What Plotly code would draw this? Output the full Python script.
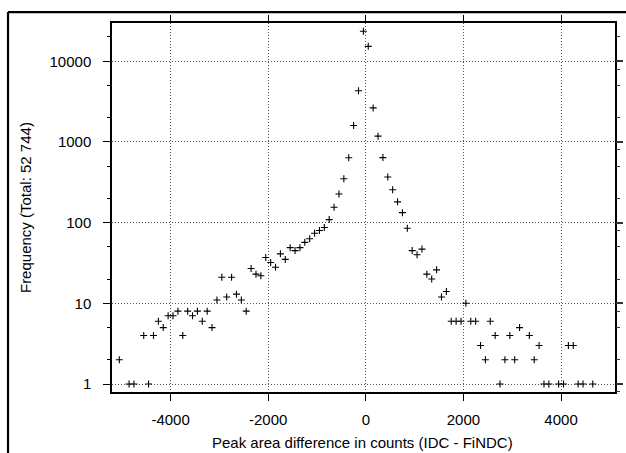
import plotly.graph_objects as go

# Bin centres (counts difference) and frequencies
bin_centers = [-5050, -4850, -4750, -4550, -4450, -4350, -4250, -4150, -4050, -3950,
               -3850, -3750, -3650, -3550, -3450, -3350, -3250, -3150, -3050, -2950,
               -2850, -2750, -2650, -2550, -2450, -2350, -2250, -2150, -2050, -1950,
               -1850, -1750, -1650, -1550, -1450, -1350, -1250, -1150, -1050, -950,
               -850, -750, -650, -550, -450, -350, -250, -150, -50, 50,
               150, 250, 350, 450, 550, 650, 750, 850, 950, 1050,
               1150, 1250, 1350, 1450, 1550, 1650, 1750, 1850, 1950, 2050,
               2150, 2250, 2350, 2450, 2550, 2650, 2750, 2850, 2950, 3050,
               3150, 3350, 3450, 3550, 3650, 3750, 3950, 4050, 4150, 4250,
               4350, 4450, 4650]
frequencies = [2, 1, 1, 4, 1, 4, 6, 5, 7, 7,
               8, 4, 8, 7, 8, 6, 8, 5, 11, 21,
               12, 21, 13, 11, 8, 27, 23, 22, 37, 32,
               28, 41, 35, 49, 45, 49, 57, 63, 74, 80,
               87, 109, 155, 226, 350, 637, 1600, 4300, 23500, 15300,
               2640, 1180, 640, 367, 256, 181, 133, 85, 45, 40,
               47, 23, 20, 26, 12, 14, 6, 6, 6, 10,
               6, 6, 3, 2, 6, 4, 1, 2, 4, 2,
               5, 4, 2, 3, 1, 1, 1, 1, 3, 3,
               1, 1, 1]

x_ticks = [-4000, -2000, 0, 2000, 4000]
y_ticks = [1, 10, 100, 1000, 10000]
y_tick_text = ["1", "10", "100", "1000", "10000"]
y_minor = [2, 5, 20, 50, 200, 500, 2000, 5000, 20000]
y_right_extra = [0.8, 8, 80, 800, 8000]

x_title = "Peak area difference in counts (IDC - FiNDC)"
y_title = "Frequency (Total: 52 744)"

FONT = "Liberation Sans, Arial, sans-serif"
GRID = "#555555"
X_RANGE = [-5200, 5105]
Y_RANGE = [-0.099, 4.474]

fig = go.Figure()
fig.add_trace(go.Scatter(
    x=bin_centers, y=frequencies, mode="markers",
    marker=dict(symbol="cross-thin", size=5, color="black",
                line=dict(width=1.1, color="black")),
    showlegend=False, hoverinfo="x+y"))
# invisible traces to activate the extra tick-only axes
for xa, ya in [("x2", "y"), ("x", "y2"), ("x", "y3"), ("x", "y4")]:
    fig.add_trace(go.Scatter(x=[0], y=[1], xaxis=xa, yaxis=ya, mode="markers",
                             marker=dict(opacity=0), showlegend=False,
                             hoverinfo="skip"))

tick_only = dict(showticklabels=False, ticks="outside", showgrid=False,
                 showline=False, zeroline=False, automargin=False)

fig.update_layout(
    width=626, height=453,
    margin=dict(l=112, r=11, t=23, b=61, autoexpand=False),
    paper_bgcolor="white", plot_bgcolor="white",
    font=dict(family=FONT, size=15, color="black"),
    xaxis=dict(
        range=X_RANGE, tickvals=x_ticks, ticktext=[str(v) for v in x_ticks],
        ticks="outside", ticklen=7, tickwidth=1.2, tickcolor="black",
        showline=True, linecolor="black", linewidth=1.5, mirror=True,
        showgrid=True, gridcolor=GRID, gridwidth=1, griddash="1px,2px",
        zeroline=False, ticklabelstandoff=6, automargin=False,
    ),
    xaxis2=dict(range=X_RANGE, overlaying="x", side="top", anchor="y",
                tickvals=x_ticks, ticklen=7, tickwidth=1.2, tickcolor="black",
                **tick_only),
    yaxis=dict(
        type="log", range=Y_RANGE, tickvals=y_ticks, ticktext=y_tick_text,
        ticks="outside", ticklen=7, tickwidth=1.2, tickcolor="black",
        showline=True, linecolor="black", linewidth=1.5, mirror=True,
        showgrid=True, gridcolor=GRID, gridwidth=1, griddash="1px,2px",
        zeroline=False, ticklabelstandoff=9, automargin=False,
    ),
    yaxis2=dict(type="log", range=Y_RANGE, overlaying="y", side="right", anchor="x",
                tickvals=y_ticks, ticklen=7, tickwidth=1.6, tickcolor="#333333",
                **tick_only),
    yaxis3=dict(type="log", range=Y_RANGE, overlaying="y", side="left", anchor="x",
                tickvals=y_minor, ticklen=4, tickwidth=1, tickcolor="black",
                **tick_only),
    yaxis4=dict(type="log", range=Y_RANGE, overlaying="y", side="right", anchor="x",
                tickvals=y_minor + y_right_extra, ticklen=4, tickwidth=1,
                tickcolor="#333333", **tick_only),
    annotations=[
        dict(text=x_title, xref="paper", yref="paper", x=0.4987, y=-0.1364,
             xanchor="center", yanchor="middle", showarrow=False,
             font=dict(size=15)),
        dict(text=y_title, xref="paper", yref="paper", x=-0.1719, y=0.5,
             xanchor="center", yanchor="middle", showarrow=False, textangle=-90,
             font=dict(size=15)),
    ],
    shapes=[
        dict(type="line", xref="paper", yref="paper", x0=-0.2067, x1=-0.2067,
             y0=-0.3, y1=1.0297, line=dict(color="black", width=2.2)),
        dict(type="line", xref="paper", yref="paper", x0=-0.2067, x1=1.05,
             y0=1.0297, y1=1.0297, line=dict(color="black", width=2.2)),
    ],
)

fig.write_html("out.html",
               config={"displayModeBar": False},
               post_script="document.body.style.margin='0';document.body.style.overflow='hidden';")
